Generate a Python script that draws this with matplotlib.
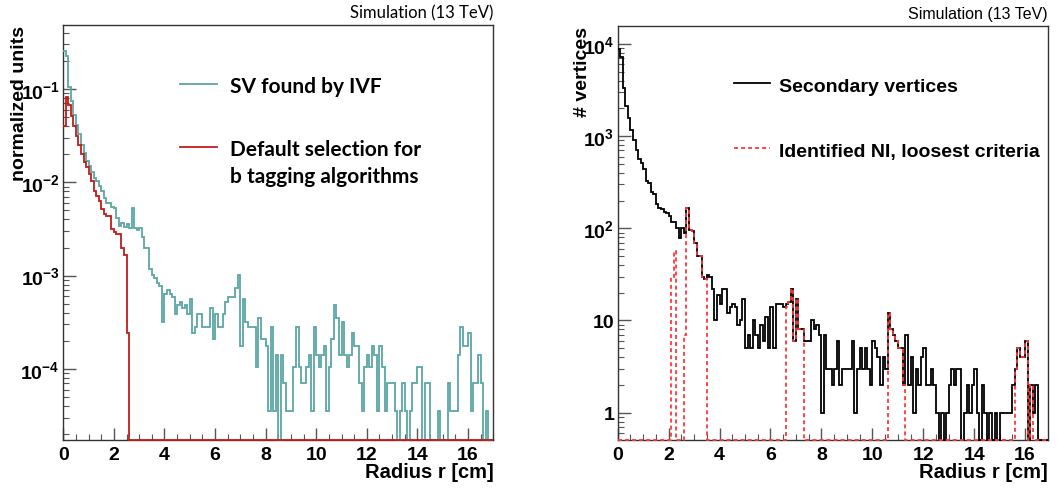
import numpy as np
import matplotlib
matplotlib.use("Agg")
import matplotlib.pyplot as plt
from matplotlib.ticker import FixedLocator, FixedFormatter, LogLocator, MultipleLocator, NullFormatter

plt.rcParams['font.family'] = ['Liberation Sans', 'DejaVu Sans']
plt.rcParams['font.weight'] = 'bold'
plt.rcParams['mathtext.fontset'] = 'custom'
plt.rcParams['mathtext.rm'] = 'Liberation Sans:bold'
plt.rcParams['mathtext.bf'] = 'Liberation Sans:bold'

# ---- data: radius histograms, 0.1 cm bins ----
edges_left = np.round(np.arange(0, 17.01, 0.1), 1)    # 170 bins, 0-17 cm
edges_right = np.round(np.arange(0, 16.91, 0.1), 1)   # 169 bins, 0-16.9 cm

# left panel: entries per bin, normalised by n_ivf
n_ivf = 28600
ivf_counts = [7380, 6520, 2975, 2145, 1487, 1173, 944, 724, 589, 489,
              432, 366, 315, 297, 260, 229, 194, 172, 172, 154,
              150, 118, 97, 104, 95, 103, 92, 152, 92, 88,
              92, 74, 57, 57, 34, 29, 27, 24, 22, 9,
              18, 20, 18, 17, 11, 14, 15, 13, 14, 11,
              16, 7, 8, 11, 11, 8, 8, 8, 13, 6,
              11, 8, 8, 11, 15, 17, 17, 17, 21, 29,
              5, 16, 9, 8, 8, 8, 3, 10, 6, 6,
              5, 1, 8, 1, 4, 0, 4, 2, 1, 1,
              1, 3, 8, 3, 2, 2, 3, 4, 1, 8,
              4, 3, 4, 5, 1, 3, 6, 14, 10, 4,
              9, 4, 3, 4, 7, 5, 5, 2, 1, 3,
              4, 3, 5, 4, 1, 5, 3, 1, 2, 2,
              2, 1, 0, 1, 2, 1, 0, 1, 2, 2,
              3, 3, 0, 2, 2, 0, 0, 0, 1, 0,
              0, 0, 2, 1, 1, 1, 4, 8, 5, 5,
              7, 1, 2, 2, 4, 2, 0, 1, 0, 0]
default_counts = [1158, 2331, 1916, 1481, 1158, 904, 724, 575, 469, 415,
                  352, 297, 233, 206, 182, 148, 131, 126, 126, 90,
                  83, 80, 80, 57, 47, 7] + [0] * 144

# right panel: number of vertices per bin
sv_counts = [8800, 7200, 3300, 2150, 1560, 1170, 910, 710, 570, 510,
             440, 330, 310, 250, 236, 183, 168, 164, 150, 148,
             135, 118, 118, 100, 78, 100, 88, 166, 96, 94,
             70, 50, 50, 30, 28, 31, 30, 22, 10, 19,
             15, 22, 22, 12, 14, 15, 14, 9, 10, 17,
             5, 7, 5, 10, 7, 5, 9, 6, 11, 5,
             14, 5, 15, 15, 15, 14, 15, 16, 22, 6,
             17, 8, 8, 6, 6, 6, 10, 8, 9, 7,
             1, 7, 3, 3, 2, 3, 6, 2, 3, 3,
             3, 3, 6, 1, 3, 5, 3, 5, 3, 2,
             6, 5, 4, 2, 4, 3, 12, 8, 7, 6,
             5, 5, 2, 7, 2, 4, 1, 3, 2, 4,
             5, 2, 2, 3, 2, 1, 0, 1, 0, 1,
             2, 3, 2, 3, 3, 0, 1, 2, 1, 2,
             3, 1, 0, 2, 1, 0, 1, 0, 1, 0,
             1, 1, 1, 1, 1, 2, 3, 5, 4, 4,
             6, 0, 2, 1, 2, 0, 0, 0, 0]
# identified nuclear interactions (non-empty bins only)
ni_bins = [21, 22, 26, 27, 28, 29, 30, 31, 32, 33, 34,
           66, 67, 68, 69, 70, 71, 72,
           106, 107, 108, 109, 110, 111, 112,
           156, 157, 158, 159, 160, 162]
ni_vals = [30, 57, 7, 166, 96, 94, 70, 50, 50, 30, 28,
           14, 16, 22, 6, 17, 8, 8,
           12, 8, 7, 6, 5, 5, 2,
           3, 5, 4, 4, 6, 2]

ni_counts = np.zeros(len(sv_counts))
ni_counts[ni_bins] = ni_vals

ivf = np.array(ivf_counts) / n_ivf
default = np.array(default_counts) / n_ivf
sv = np.array(sv_counts, dtype=float)

# ---- figure ----
W, H = 1057, 489
fig = plt.figure(figsize=(W / 100, H / 100), dpi=100)
ax0 = fig.add_axes([63.3 / W, 1 - 441 / H, 430 / W, 415 / H])
ax1 = fig.add_axes([617.7 / W, 1 - 441 / H, 430.3 / W, 414.3 / H])

teal = '#5aa6a6'
dred = '#c41a1a'
lred = '#ff3838'

ylo0, yhi0 = 1.73e-5, 0.485
ylo1, yhi1 = 0.505, 15800

ax0.stairs(np.maximum(ivf, ylo0), edges_left, baseline=None, color=teal, lw=1.3, zorder=3, clip_on=False)
ax0.stairs(np.maximum(default, ylo0), edges_left, baseline=None, color=dred, lw=1.3, zorder=4, clip_on=False)

ax1.stairs(np.maximum(sv, ylo1), edges_right, baseline=None, color='black', lw=1.3, zorder=3, clip_on=False)
ax1.stairs(np.maximum(ni_counts, ylo1), edges_right, baseline=None, color=lred, lw=1.3,
           linestyle=(0, (2.2, 1.7)), zorder=4, clip_on=False)

for ax in (ax0, ax1):
    ax.set_yscale('log')
    ax.xaxis.set_major_locator(MultipleLocator(2))
    ax.xaxis.set_minor_locator(MultipleLocator(0.5))
    ax.yaxis.set_minor_locator(LogLocator(base=10, subs=np.arange(2, 10)))
    ax.yaxis.set_minor_formatter(NullFormatter())
    ax.tick_params(which='both', direction='in', top=False, right=False, colors='#555555')
    ax.tick_params(which='major', length=9, width=1.0, labelsize=14, labelcolor='black')
    ax.tick_params(which='minor', length=4.5, width=0.8)
    ax.tick_params(axis='x', pad=4)
    ax.tick_params(axis='y', pad=2.5)
    for s in ax.spines.values():
        s.set_color('#333333')
        s.set_linewidth(1.0)

ax0.set_xlim(0, 17)
ax0.set_ylim(ylo0, yhi0)
ax0.yaxis.set_major_locator(FixedLocator([1e-4, 1e-3, 1e-2, 1e-1]))
ax0.yaxis.set_major_formatter(FixedFormatter([r'$\mathbf{10^{-4}}$', r'$\mathbf{10^{-3}}$',
                                              r'$\mathbf{10^{-2}}$', r'$\mathbf{10^{-1}}$']))

ax1.set_xlim(0, 16.9)
ax1.set_ylim(ylo1, yhi1)
ax1.yaxis.set_major_locator(FixedLocator([1, 10, 1e2, 1e3, 1e4]))
ax1.yaxis.set_major_formatter(FixedFormatter(['1', '10', r'$\mathbf{10^{2}}$',
                                              r'$\mathbf{10^{3}}$', r'$\mathbf{10^{4}}$']))

# axis titles (ROOT style: at the ends)
ax0.set_xlabel('Radius r [cm]', fontsize=14.5, fontweight='bold', ha='right')
ax0.xaxis.set_label_coords(1.0, -0.052)
ax0.set_ylabel('normalized units', fontsize=14, fontweight='bold', ha='right')
ax0.yaxis.set_label_coords(-0.083, 1.0)

ax1.set_xlabel('Radius r [cm]', fontsize=14.5, fontweight='bold', ha='right')
ax1.xaxis.set_label_coords(1.0, -0.052)
ax1.set_ylabel('# vertices', fontsize=14, fontweight='bold', ha='right')
ax1.yaxis.set_label_coords(-0.063, 1.0)

ax0.text(1.0, 1.012, 'Simulation (13 TeV)', transform=ax0.transAxes, ha='right', va='bottom',
         fontsize=12, fontweight='normal', family=['Lato', 'DejaVu Sans'])
ax1.text(1.0, 1.012, 'Simulation (13 TeV)', transform=ax1.transAxes, ha='right', va='bottom',
         fontsize=11.5, fontweight='normal')

# legends drawn by hand
ax0.plot([0.271, 0.357], [0.858, 0.858], transform=ax0.transAxes, color=teal, lw=1.3)
ax0.text(0.388, 0.8386, 'SV found by IVF', transform=ax0.transAxes, fontsize=15,
         fontweight='bold', family=['Lato', 'DejaVu Sans'], va='baseline')
ax0.plot([0.271, 0.357], [0.706, 0.706], transform=ax0.transAxes, color=dred, lw=1.3)
ax0.text(0.388, 0.687, 'Default selection for', transform=ax0.transAxes, fontsize=15,
         fontweight='bold', family=['Lato', 'DejaVu Sans'], va='baseline')
ax0.text(0.388, 0.622, 'b tagging algorithms', transform=ax0.transAxes, fontsize=15,
         fontweight='bold', family=['Lato', 'DejaVu Sans'], va='baseline')

ax1.plot([0.2696, 0.354], [0.862, 0.862], transform=ax1.transAxes, color='black', lw=1.3)
ax1.text(0.375, 0.843, 'Secondary vertices', transform=ax1.transAxes, fontsize=14,
         fontweight='bold', va='baseline')
ax1.plot([0.2696, 0.354], [0.705, 0.705], transform=ax1.transAxes, color=lred, lw=1.3,
         linestyle=(0, (2.2, 1.7)))
ax1.text(0.375, 0.686, 'Identified NI, loosest criteria', transform=ax1.transAxes, fontsize=14,
         fontweight='bold', va='baseline')

fig.savefig('out.png', dpi=100)
